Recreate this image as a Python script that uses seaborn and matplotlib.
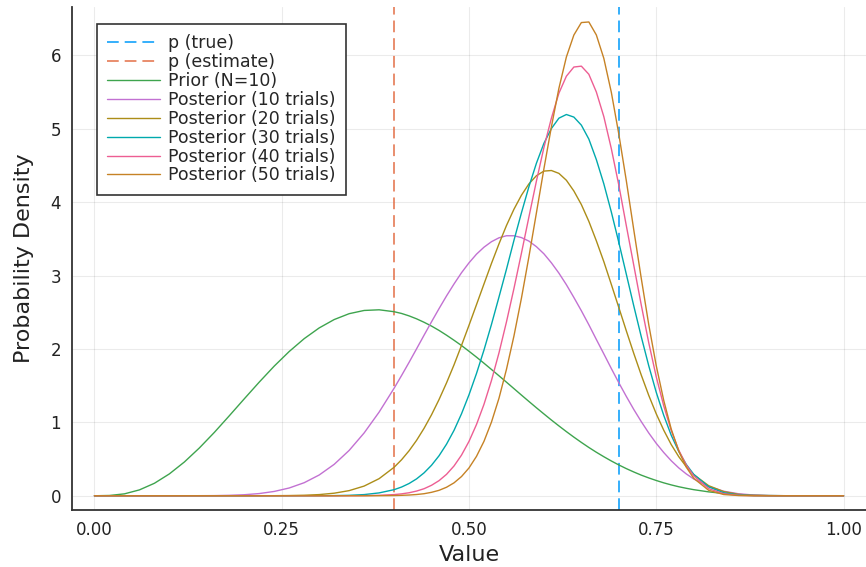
import pandas as pd
import seaborn as sns
import matplotlib.pyplot as plt

# valeurs (grille plus fine entre 0.40 et 0.80)
valeurs_x = [0.00, 0.02, 0.04, 0.06, 0.08, 0.10, 0.12, 0.14, 0.16, 0.18,
             0.20, 0.22, 0.24, 0.26, 0.28, 0.30, 0.32, 0.34, 0.36, 0.38,
             0.40, 0.41, 0.42, 0.43, 0.44, 0.45, 0.46, 0.47, 0.48, 0.49,
             0.50, 0.51, 0.52, 0.53, 0.54, 0.55, 0.56, 0.57, 0.58, 0.59,
             0.60, 0.61, 0.62, 0.63, 0.64, 0.65, 0.66, 0.67, 0.68, 0.69,
             0.70, 0.71, 0.72, 0.73, 0.74, 0.75, 0.76, 0.77, 0.78, 0.79, 0.80,
             0.82, 0.84, 0.86, 0.88, 0.90, 0.92, 0.94, 0.96, 0.98, 1.00]

prior = [0, 0.004, 0.026, 0.080, 0.170, 0.298, 0.460, 0.651, 0.863, 1.090,
         1.321, 1.549, 1.767, 1.966, 2.141, 2.287, 2.401, 2.481, 2.525, 2.534,
         2.508, 2.484, 2.451, 2.411, 2.364, 2.312, 2.253, 2.188, 2.119, 2.047,
         1.969, 1.889, 1.806, 1.721, 1.635, 1.548, 1.460, 1.372, 1.285, 1.199,
         1.115, 1.032, 0.952, 0.874, 0.799, 0.727, 0.658, 0.593, 0.532, 0.474,
         0.420, 0.370, 0.324, 0.281, 0.243, 0.208, 0.176, 0.148, 0.123, 0.102, 0.083,
         0.053, 0.031, 0.017, 0.009, 0.004, 0.001, 0, 0, 0, 0]

post_10 = [0, 0, 0, 0, 0, 0, 0, 0.001, 0.002, 0.006,
           0.014, 0.030, 0.059, 0.106, 0.178, 0.283, 0.428, 0.618, 0.856, 1.140,
           1.465, 1.639, 1.818, 2.002, 2.188, 2.371, 2.550, 2.723, 2.886, 3.039,
           3.174, 3.292, 3.387, 3.462, 3.515, 3.543, 3.543, 3.518, 3.470, 3.394,
           3.297, 3.174, 3.034, 2.876, 2.702, 2.521, 2.330, 2.130, 1.933, 1.734,
           1.540, 1.354, 1.176, 1.010, 0.855, 0.714, 0.589, 0.477, 0.380, 0.298, 0.229,
           0.126, 0.062, 0.027, 0.010, 0.003, 0.001, 0, 0, 0, 0]

post_20 = [0, 0, 0, 0, 0, 0, 0, 0, 0, 0,
           0, 0, 0.001, 0.003, 0.007, 0.016, 0.035, 0.070, 0.132, 0.233,
           0.388, 0.491, 0.613, 0.755, 0.919, 1.104, 1.311, 1.538, 1.784, 2.049,
           2.323, 2.604, 2.886, 3.166, 3.432, 3.682, 3.904, 4.095, 4.250, 4.361,
           4.424, 4.432, 4.393, 4.299, 4.153, 3.968, 3.739, 3.474, 3.190, 2.880,
           2.565, 2.248, 1.939, 1.644, 1.367, 1.116, 0.893, 0.697, 0.533, 0.397, 0.288,
           0.137, 0.057, 0.019, 0.005, 0.001, 0, 0, 0, 0, 0]

post_30 = [0, 0, 0, 0, 0, 0, 0, 0, 0, 0,
           0, 0, 0, 0, 0, 0.001, 0.002, 0.006, 0.016, 0.039,
           0.083, 0.119, 0.167, 0.230, 0.312, 0.416, 0.545, 0.703, 0.891, 1.117,
           1.376, 1.666, 1.986, 2.335, 2.707, 3.086, 3.480, 3.855, 4.212, 4.531,
           4.802, 5.004, 5.145, 5.195, 5.160, 5.050, 4.860, 4.581, 4.250, 3.867,
           3.452, 3.020, 2.586, 2.166, 1.770, 1.409, 1.095, 0.824, 0.604, 0.428, 0.292,
           0.121, 0.041, 0.011, 0.002, 0, 0, 0, 0, 0, 0]

post_40 = [0, 0, 0, 0, 0, 0, 0, 0, 0, 0,
           0, 0, 0, 0, 0, 0, 0, 0.001, 0.002, 0.006,
           0.016, 0.026, 0.041, 0.064, 0.096, 0.143, 0.206, 0.292, 0.406, 0.554,
           0.741, 0.971, 1.246, 1.571, 1.946, 2.368, 2.824, 3.305, 3.800, 4.288,
           4.745, 5.145, 5.485, 5.717, 5.842, 5.854, 5.743, 5.502, 5.166, 4.730,
           4.233, 3.681, 3.139, 2.598, 2.083, 1.620, 1.224, 0.887, 0.622, 0.420, 0.271,
           0.097, 0.028, 0.006, 0.001, 0, 0, 0, 0, 0, 0]

post_50 = [0, 0, 0, 0, 0, 0, 0, 0, 0, 0,
           0, 0, 0, 0, 0, 0, 0, 0, 0, 0.001,
           0.003, 0.006, 0.010, 0.017, 0.028, 0.047, 0.074, 0.116, 0.176, 0.262,
           0.379, 0.537, 0.742, 1.004, 1.328, 1.722, 2.177, 2.692, 3.258, 3.855,
           4.455, 5.027, 5.551, 5.979, 6.278, 6.448, 6.456, 6.279, 5.960, 5.498,
           4.928, 4.294, 3.622, 2.961, 2.330, 1.771, 1.298, 0.908, 0.610, 0.391, 0.238,
           0.074, 0.017, 0.003, 0, 0, 0, 0, 0, 0, 0]

p_true = 0.7
p_estimate = 0.4

noms_series = ["Prior (N=10)", "Posterior (10 trials)", "Posterior (20 trials)",
               "Posterior (30 trials)", "Posterior (40 trials)", "Posterior (50 trials)"]
couleurs = ["#3EA44E", "#C271D2", "#AC8D18", "#00A9AD", "#ED5E93", "#C68225"]

### création d'un dataframe
dico_global = {"Value": [], "Density": [], "serie": []}
for nom, valeurs in zip(noms_series, [prior, post_10, post_20, post_30, post_40, post_50]):
    dico_global["Value"] += valeurs_x
    dico_global["Density"] += valeurs
    dico_global["serie"] += [nom] * len(valeurs_x)
data_tab = pd.DataFrame(dico_global)

sns.set_theme(style="white")
plt.rcParams['font.family'] = ['DejaVu Sans']

fig = plt.figure(figsize=(8.66, 5.67), dpi=100)
ax = fig.add_axes([72 / 866, 57 / 567, 794 / 866, 503 / 567])

# lignes verticales
ax.axvline(p_true, color="#009AFA", ls=(0, (6.5, 3.3)), lw=1.3, alpha=0.85, label="p (true)")
ax.axvline(p_estimate, color="#E36F47", ls=(0, (6.5, 3.3)), lw=1.3, alpha=0.85, label="p (estimate)")

for nom, c in zip(noms_series, couleurs):
    sns.lineplot(x="Value", y="Density", data=data_tab[data_tab["serie"] == nom],
                 color=c, lw=1.0, label=nom, ax=ax)

ax.set_xlim(-0.03, 1.03)
ax.set_ylim(-0.194, 6.66)
ax.set_xticks([0, 0.25, 0.5, 0.75, 1.0])
ax.set_xticklabels(["0.00", "0.25", "0.50", "0.75", "1.00"])
ax.set_yticks([0, 1, 2, 3, 4, 5, 6])
ax.grid(True, color="black", alpha=0.08, lw=0.8)
ax.tick_params(direction="in", length=5, width=1.2, labelsize=12, pad=8, colors="#333333")
ax.tick_params(labelcolor="#222222")
for s in ["top", "right"]:
    ax.spines[s].set_visible(False)
for s in ["left", "bottom"]:
    ax.spines[s].set_color("#333333")
    ax.spines[s].set_linewidth(1.3)

ax.set_xlabel("Value", fontsize=16, color="#222222", labelpad=4)
ax.set_ylabel("Probability Density", fontsize=16, color="#222222", labelpad=12)

leg = ax.legend(loc="upper left", bbox_to_anchor=(25 / 794, (503 - 17) / 503), borderaxespad=0,
                fontsize=12.5, labelspacing=0.05, handlelength=3.0, handletextpad=0.5,
                borderpad=0.6, fancybox=False, framealpha=1, edgecolor="#333333")
leg.get_frame().set_linewidth(1.2)

plt.savefig("out.png", dpi=100)
